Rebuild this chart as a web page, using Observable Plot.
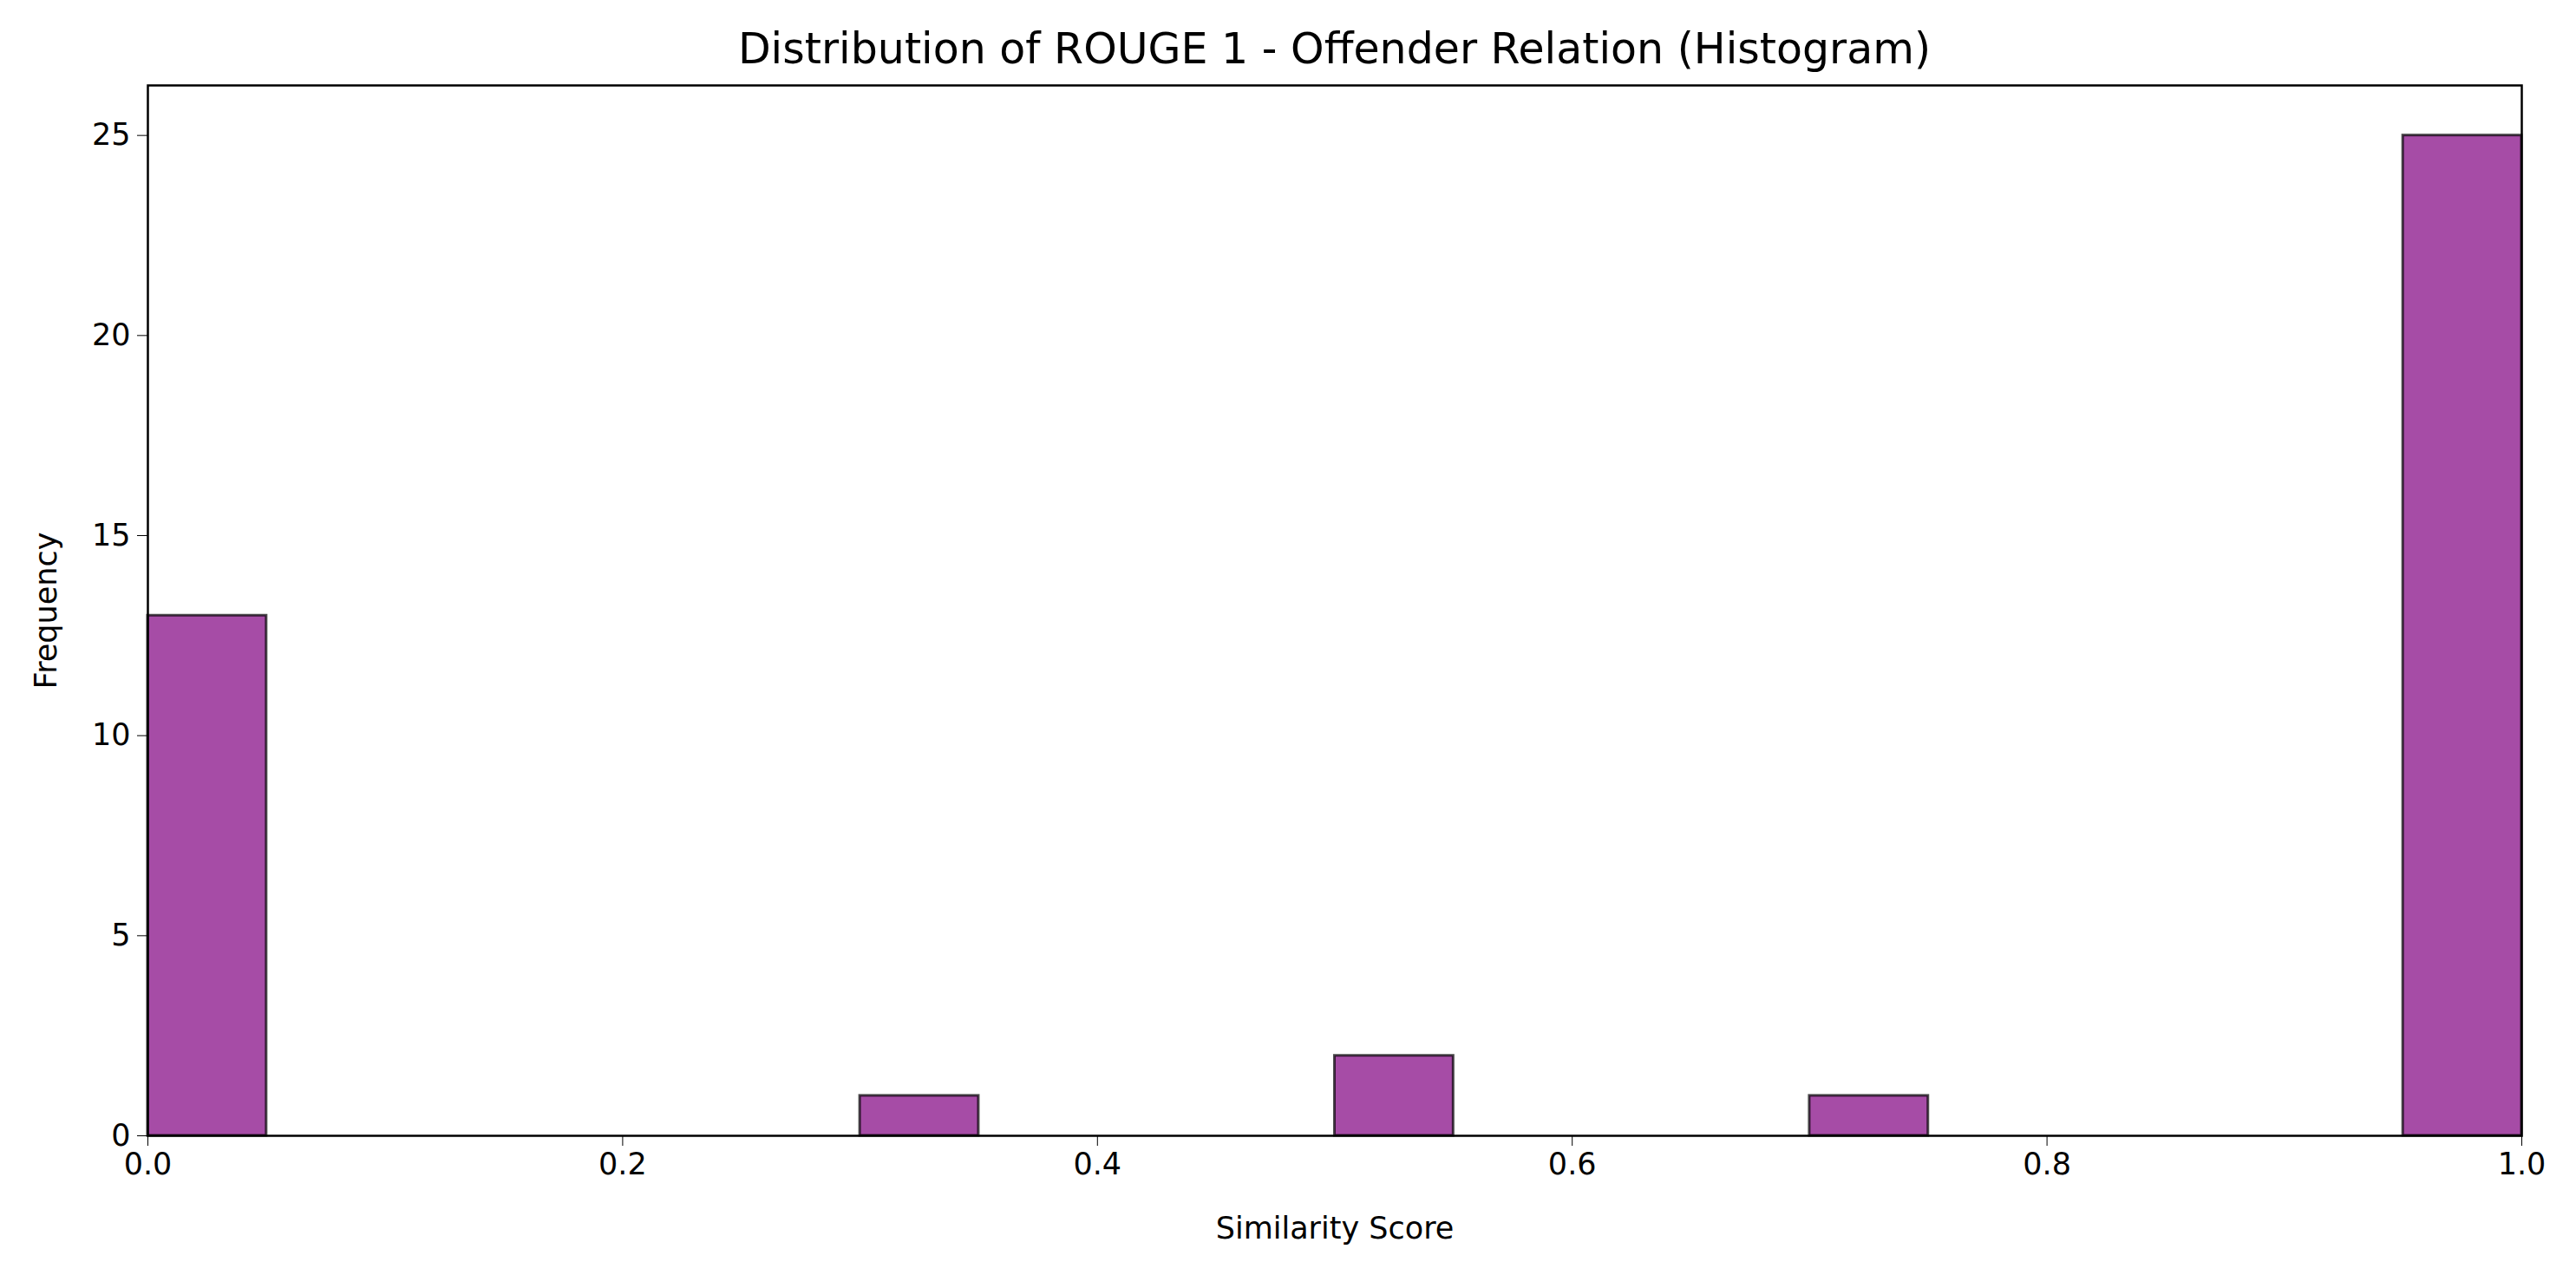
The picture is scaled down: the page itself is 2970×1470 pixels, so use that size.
<!DOCTYPE html>
<html>
<head>
<meta charset="utf-8">
<script src="https://cdn.jsdelivr.net/npm/d3@7"></script>
<script src="https://cdn.jsdelivr.net/npm/@observablehq/plot@0.6"></script>
<style>
  body { margin: 0; background: #fff; font-family: "DejaVu Sans", sans-serif; }
  #title { height: 64px; padding-top: 32px; line-height: 50px; font-size: 49px; text-align: center; padding-left: 107px; box-sizing: content-box; }
</style>
</head>
<body>
<div id="title">Distribution of ROUGE 1 - Offender Relation (Histogram)</div>
<div id="chart"></div>
<script>
// histogram bins (width 0.05) and counts
const binStarts = d3.range(20).map(i => i / 20)
const counts = [13, 0, 0, 0, 0, 0, 1, 0, 0, 0, 2, 0, 0, 0, 1, 0, 0, 0, 0, 25]
const xTicks = [0, 0.2, 0.4, 0.6, 0.8, 1.0]
const yTicks = [0, 5, 10, 15, 20, 25]

const bins = binStarts.map((b, i) => ({x1: b, x2: b + 0.05, count: counts[i]})).filter(d => d.count > 0)

const chart = Plot.plot({
  width: 2970,
  height: 1374,
  marginTop: 2,
  marginBottom: 161,
  marginLeft: 170,
  marginRight: 63,
  style: {fontFamily: "DejaVu Sans", fontSize: "35px", color: "#000"},
  x: {domain: [0, 1]},
  y: {domain: [0, 26.25]},
  marks: [
    Plot.rectY(bins, {x1: "x1", x2: "x2", y: "count", fill: "#a64ca6", stroke: "#000", strokeOpacity: 0.7, strokeWidth: 3}),
    Plot.frame({stroke: "#000", strokeWidth: 2.5}),
    Plot.axisX({ticks: xTicks, tickFormat: d => d.toFixed(1), tickSize: 12, tickPadding: 8, tickWidth: 2, label: null}),
    Plot.axisY({ticks: yTicks, tickSize: 12, tickPadding: 8, tickWidth: 2, label: null}),
    Plot.text(["Similarity Score"], {frameAnchor: "bottom", dy: 118, fontSize: 35}),
    Plot.text(["Frequency"], {frameAnchor: "left", textAnchor: "middle", dx: -117, rotate: -90, fontSize: 35})
  ]
})

d3.select('#chart').append(() => chart)
</script>
</body>
</html>
